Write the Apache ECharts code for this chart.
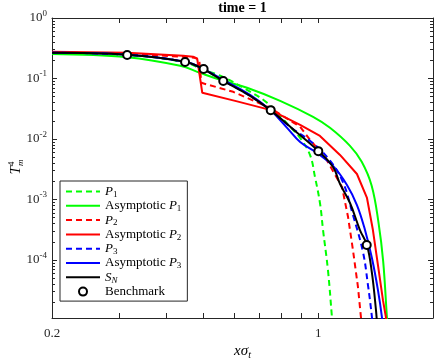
<!DOCTYPE html>
<html><head><meta charset="utf-8">
<script src="https://cdn.jsdelivr.net/npm/echarts@6/dist/echarts.min.js"></script>
<style>html,body{margin:0;padding:0;background:#fff}#c{width:436px;height:359px}</style>
</head><body><div id="c"></div>
<script>
const SERIF = "'Liberation Serif', 'Times New Roman', serif";

// ---- data ----
const xP1 = [0.2, 0.315, 0.447, 0.497, 0.553, 0.635, 0.734, 0.843, 0.896, 0.951, 0.980, 1.010, 1.029, 1.060, 1.086, 1.093];
const yP1 = [0.264, 0.245, 0.185, 0.140, 0.111, 0.0702, 0.0396, 0.0159, 0.0104, 0.00546, 0.00236, 0.000875, 0.000313, 0.0000681, 0.0000113, 0.000007];

const xAP1 = [0.2, 0.315, 0.434, 0.489, 0.553, 0.650, 0.794, 0.969, 1.073, 1.211, 1.300, 1.380, 1.440, 1.480, 1.514, 1.523];
const yAP1 = [0.254, 0.225, 0.162, 0.124, 0.0952, 0.0702, 0.0427, 0.0232, 0.0153, 0.00769, 0.00420, 0.00170, 0.000400, 0.0000950, 0.0000113, 0.000007];

const xP2 = [0.2, 0.315, 0.442, 0.475, 0.487, 0.493, 0.598, 0.747, 0.896, 0.951, 1.041, 1.154, 1.197, 1.233, 1.271, 1.294, 1.302];
const yP2 = [0.271, 0.256, 0.229, 0.220, 0.204, 0.0849, 0.0602, 0.0327, 0.0159, 0.00966, 0.00505, 0.00161, 0.000513, 0.000146, 0.0000356, 0.0000113, 0.000007];

const xAP2 = [0.2, 0.315, 0.442, 0.469, 0.481, 0.496, 0.605, 0.747, 0.896, 1.010, 1.140, 1.263, 1.342, 1.391, 1.434, 1.478, 1.505, 1.514];
const yAP2 = [0.277, 0.266, 0.238, 0.229, 0.212, 0.058, 0.0427, 0.0303, 0.0171, 0.01124, 0.00546, 0.00264, 0.00106, 0.000313, 0.0000824, 0.0000217, 0.0000113, 0.000007];

const xP3 = [0.2, 0.315, 0.447, 0.497, 0.563, 0.662, 0.747, 0.843, 0.951, 1.054, 1.154, 1.233, 1.310, 1.350, 1.383, 1.391];
const yP3 = [0.266, 0.247, 0.189, 0.145, 0.0916, 0.0517, 0.0303, 0.0159, 0.00931, 0.00505, 0.00210, 0.000554, 0.000135, 0.0000385, 0.0000113, 0.000007];

const xAP3 = [0.2, 0.315, 0.447, 0.497, 0.563, 0.662, 0.747, 0.828, 0.896, 0.992, 1.093, 1.189, 1.263, 1.326, 1.383, 1.434, 1.469, 1.478];
const yAP3 = [0.266, 0.247, 0.189, 0.145, 0.0952, 0.0537, 0.0303, 0.0153, 0.00895, 0.00589, 0.00359, 0.00174, 0.000811, 0.000313, 0.000107, 0.0000318, 0.0000113, 0.000007];

const xSN = [0.2, 0.315, 0.447, 0.497, 0.563, 0.662, 0.747, 0.869, 1.0, 1.093, 1.140, 1.211, 1.286, 1.342, 1.383, 1.417, 1.426];
const ySN = [0.266, 0.247, 0.189, 0.145, 0.0916, 0.0517, 0.0303, 0.0136, 0.00635, 0.00345, 0.00181, 0.000875, 0.000313, 0.000176, 0.0000607, 0.0000148, 0.0000087];

const xBench = [0.315, 0.447, 0.5, 0.563, 0.75, 1.0, 1.34];
const yBench = [0.245, 0.187, 0.144, 0.091, 0.030, 0.0063, 0.000177];

const seriesNames = ['P1', 'Asymptotic P1', 'P2', 'Asymptotic P2', 'P3', 'Asymptotic P3', 'SN', 'Benchmark'];

const xTicks = [0.2, 0.3, 0.4, 0.5, 0.6, 0.7, 0.8, 0.9, 1, 2];
const xTickLabels = [0.2, 1];
const yMajor = [1e-4, 1e-3, 1e-2, 1e-1, 1];
const yMinorMantissa = [2, 3, 4, 5, 6, 7, 8, 9];
const yMinorDecades = [1e-5, 1e-4, 1e-3, 1e-2, 1e-1];
const X_MIN = 0.2, X_MAX = 2, Y_MIN = 1.1e-5, Y_MAX = 1;

// ---- build ----
const yMinor = [];
yMinorDecades.forEach(d => yMinorMantissa.forEach(m => yMinor.push(+(m * d).toPrecision(3))));
const zip = (xs, ys) => xs.map((x, i) => [x, ys[i]]);

const AX = '#262626';
const baseTxt = {fontFamily: SERIF, fontSize: 13, color: '#000', lineHeight: 15};
const richLegend = {
  r: Object.assign({}, baseTxt),
  i: Object.assign({}, baseTxt, {fontStyle: 'italic'}),
  s: {fontFamily: SERIF, fontSize: 9, color: '#000', lineHeight: 7, verticalAlign: 'bottom'},
  si: {fontFamily: SERIF, fontSize: 9, color: '#000', lineHeight: 7, verticalAlign: 'bottom', fontStyle: 'italic'}
};
const legendFmt = {
  'P1': '{i|P}{s|1}', 'Asymptotic P1': '{r|Asymptotic }{i|P}{s|1}',
  'P2': '{i|P}{s|2}', 'Asymptotic P2': '{r|Asymptotic }{i|P}{s|2}',
  'P3': '{i|P}{s|3}', 'Asymptotic P3': '{r|Asymptotic }{i|P}{s|3}',
  'SN': '{i|S}{si|N}', 'Benchmark': '{r|Benchmark}'
};

function mkX(pos, showLabels, extra) {
  return Object.assign({
    type: 'log', logBase: 10, min: X_MIN, max: X_MAX, position: pos,
    nameMoveOverlap: false,
    axisLine: {show: true, onZero: false, lineStyle: {color: AX, width: 1}},
    axisTick: {show: true, inside: true, length: 5, customValues: xTicks, lineStyle: {color: AX, width: 1}},
    axisLabel: {show: showLabels, customValues: xTickLabels, margin: 9,
      fontFamily: SERIF, fontSize: 13, color: AX,
      formatter: v => (Math.abs(v - 1) < 1e-6 ? '1' : String(Math.round(v * 10) / 10))},
    splitLine: {show: false}, minorTick: {show: false}
  }, extra || {});
}
function mkY(pos, major, extra) {
  return Object.assign({
    type: 'log', logBase: 10, min: Y_MIN, max: Y_MAX, position: pos,
    nameMoveOverlap: false,
    axisLine: {show: major, onZero: false, lineStyle: {color: AX, width: 1}},
    axisTick: {show: true, inside: true, length: major ? 5 : 3, customValues: major ? yMajor : yMinor, lineStyle: {color: AX, width: 1}},
    axisLabel: {show: false},
    splitLine: {show: false}, minorTick: {show: false}
  }, extra || {});
}

const yLabelRich = {
  b: {fontFamily: SERIF, fontSize: 13, color: AX, lineHeight: 18},
  p: {fontFamily: SERIF, fontSize: 9, color: AX, lineHeight: 5, verticalAlign: 'top'}
};

const lineCommon = {type: 'line', symbol: 'none', showSymbol: false, clip: true, z: 2};
function curve(name, xs, ys, color, dashed, smooth) {
  return Object.assign({}, lineCommon, {
    name, data: zip(xs, ys), smooth: smooth ? 0.4 : false,
    lineStyle: {color, width: 2, type: dashed ? [6, 4] : 'solid'},
    itemStyle: {color}
  });
}

const legendData = seriesNames.map(n => n === 'Benchmark'
  ? {name: n, lineStyle: {opacity: 0}}
  : {name: n, itemStyle: {opacity: 0}});

const chart = echarts.init(document.getElementById('c'), null, {renderer: 'canvas'});
chart.setOption({
  animation: false,
  backgroundColor: '#fff',
  grid: {left: 52, top: 18, width: 381, height: 300, containLabel: false, outerBoundsMode: 'none'},
  xAxis: [
    mkX('bottom', true, {
      name: '{i|xσ}{s|t}', nameLocation: 'middle', nameGap: 25,
      nameTextStyle: {rich: {
        i: {fontFamily: SERIF, fontSize: 15, fontStyle: 'italic', color: '#000', lineHeight: 17},
        s: {fontFamily: SERIF, fontSize: 10, fontStyle: 'italic', color: '#000', lineHeight: 8, verticalAlign: 'bottom'}
      }}
    }),
    mkX('top', false, {
      name: 'time = 1', nameLocation: 'middle', nameGap: 3,
      nameTextStyle: {fontFamily: SERIF, fontSize: 14, fontWeight: 'bold', color: '#000'}
    })
  ],
  yAxis: [
    mkY('left', true, {
      axisLabel: {show: true, customValues: yMajor, margin: 5,
        formatter: v => '{b|10}{p|' + Math.round(Math.log10(v)) + '}', rich: yLabelRich},
      name: '{i|T}{s|m}{p|4}', nameLocation: 'middle', nameGap: 27,
      nameTextStyle: {rich: {
        i: {fontFamily: SERIF, fontSize: 15, fontStyle: 'italic', color: '#000', lineHeight: 18, align: 'left'},
        s: {fontFamily: SERIF, fontSize: 9, fontStyle: 'italic', color: '#000', lineHeight: 6, verticalAlign: 'bottom', width: 0.01, align: 'left'},
        p: {fontFamily: SERIF, fontSize: 9, color: '#000', lineHeight: 6, verticalAlign: 'top', align: 'left'}
      }}
    }),
    mkY('left', false),
    mkY('right', true),
    mkY('right', false)
  ],
  legend: {
    orient: 'vertical', left: 60, top: 181,
    padding: [4, 6, 3, 5], itemWidth: 34, itemHeight: 10, itemGap: 0.3,
    backgroundColor: '#fff', borderColor: AX, borderWidth: 1,
    data: legendData,
    formatter: n => legendFmt[n],
    textStyle: {fontFamily: SERIF, fontSize: 13, color: '#000', rich: richLegend}
  },
  series: [
    curve('P1', xP1, yP1, '#00ff00', true, true),
    curve('Asymptotic P1', xAP1, yAP1, '#00ff00', false, true),
    curve('P2', xP2, yP2, '#ff0000', true, false),
    curve('Asymptotic P2', xAP2, yAP2, '#ff0000', false, false),
    curve('P3', xP3, yP3, '#0000ff', true, true),
    curve('Asymptotic P3', xAP3, yAP3, '#0000ff', false, true),
    curve('SN', xSN, ySN, '#000000', false, true),
    {type: 'line', name: 'Benchmark', data: zip(xBench, yBench), symbol: 'emptyCircle', symbolSize: 8,
      showSymbol: true, lineStyle: {opacity: 0, width: 0}, itemStyle: {color: '#000', borderWidth: 2}, z: 5}
  ]
});
</script></body></html>
